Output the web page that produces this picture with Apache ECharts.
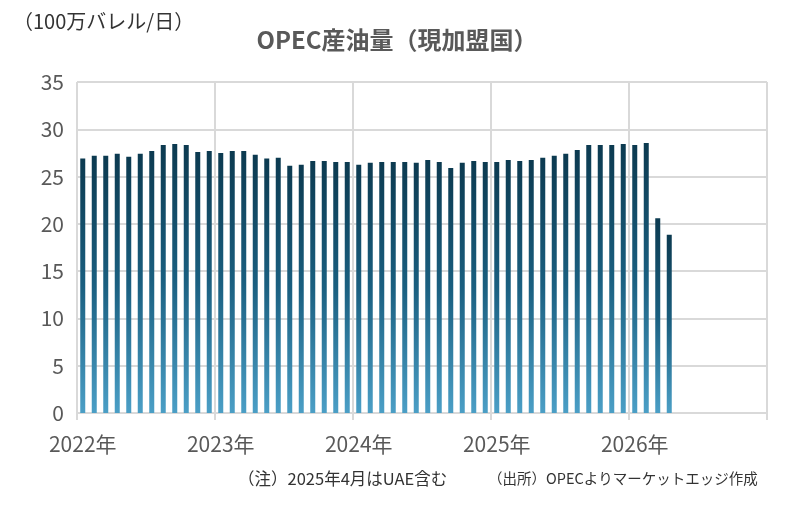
<!DOCTYPE html>
<html><head><meta charset="utf-8">
<script src="https://cdn.jsdelivr.net/npm/echarts@6/dist/echarts.min.js"></script>
<style>html,body{margin:0;padding:0;background:#fff}#c{width:788px;height:508px}</style>
</head><body><div id="c"></div>
<script>
const years = [2022, 2023, 2024, 2025, 2026];
const months = ['01','02','03','04','05','06','07','08','09','10','11','12'];
const categories = [];
years.forEach(y => months.forEach(m => categories.push(y + '/' + m)));
const output = [
  26.9, 27.2, 27.2, 27.4, 27.1, 27.4, 27.7, 28.35, 28.45, 28.35, 27.6, 27.7,
  27.5, 27.7, 27.7, 27.3, 26.9, 27.0, 26.15, 26.25, 26.65, 26.65, 26.55, 26.55,
  26.25, 26.45, 26.55, 26.55, 26.55, 26.45, 26.75, 26.55, 25.9, 26.45, 26.65, 26.55,
  26.55, 26.75, 26.65, 26.75, 27.0, 27.2, 27.4, 27.8, 28.35, 28.35, 28.35, 28.45,
  28.35, 28.55, 20.6, 18.85
];
const yTicks = {min: 0, max: 35, interval: 5};
const titleText = 'OPEC産油量（現加盟国）';
const unitText = '（100万バレル/日）';
const note1 = '（注）2025年4月はUAE含む';
const note2 = '（出所）OPECよりマーケットエッジ作成';

const font = '"Noto Sans CJK JP", "Noto Sans", sans-serif';
const chart = echarts.init(document.getElementById('c'), null, {renderer: 'canvas'});
chart.setOption({
  animation: false,
  backgroundColor: '#fff',
  title: {
    text: titleText, left: 392, top: 23, textAlign: 'center',
    textStyle: {fontFamily: font, fontSize: 24, fontWeight: 'bold', color: '#595959'}
  },
  graphic: [
    {type: 'text', left: 13, top: 11, style: {text: unitText, font: '20px ' + font, fill: '#333'}},
    {type: 'text', left: 238, top: 470, style: {text: note1, font: '16.5px ' + font, fill: '#333'}},
    {type: 'text', left: 488, top: 471, style: {text: note2, font: '14.5px ' + font, fill: '#333'}}
  ],
  grid: {left: 77, right: 21, top: 82, bottom: 95, containLabel: false},
  xAxis: {
    type: 'category', data: categories, boundaryGap: true,
    axisLine: {lineStyle: {color: '#d9d9d9', width: 2}},
    axisTick: {show: true, interval: 11, length: 7, lineStyle: {color: '#d9d9d9', width: 2}},
    splitLine: {show: true, interval: 11, lineStyle: {color: '#d9d9d9', width: 2}},
    axisLabel: {
      interval: 11, margin: 21, color: '#595959', fontSize: 21, fontFamily: font,
      formatter: v => v.slice(0, 4) + '年'
    }
  },
  yAxis: {
    type: 'value', min: yTicks.min, max: yTicks.max, interval: yTicks.interval,
    axisLine: {show: false}, axisTick: {show: false},
    splitLine: {lineStyle: {color: '#d9d9d9', width: 2}},
    axisLabel: {color: '#595959', fontSize: 21, fontFamily: font, margin: 13}
  },
  series: [{
    type: 'bar', data: output, barWidth: 5,
    itemStyle: {
      color: new echarts.graphic.LinearGradient(0, 0, 0, 1, [
        {offset: 0, color: '#0c3a50'},
        {offset: 0.5, color: '#1a5f80'},
        {offset: 1, color: '#4b9fc6'}
      ])
    }
  }]
});
</script></body></html>
